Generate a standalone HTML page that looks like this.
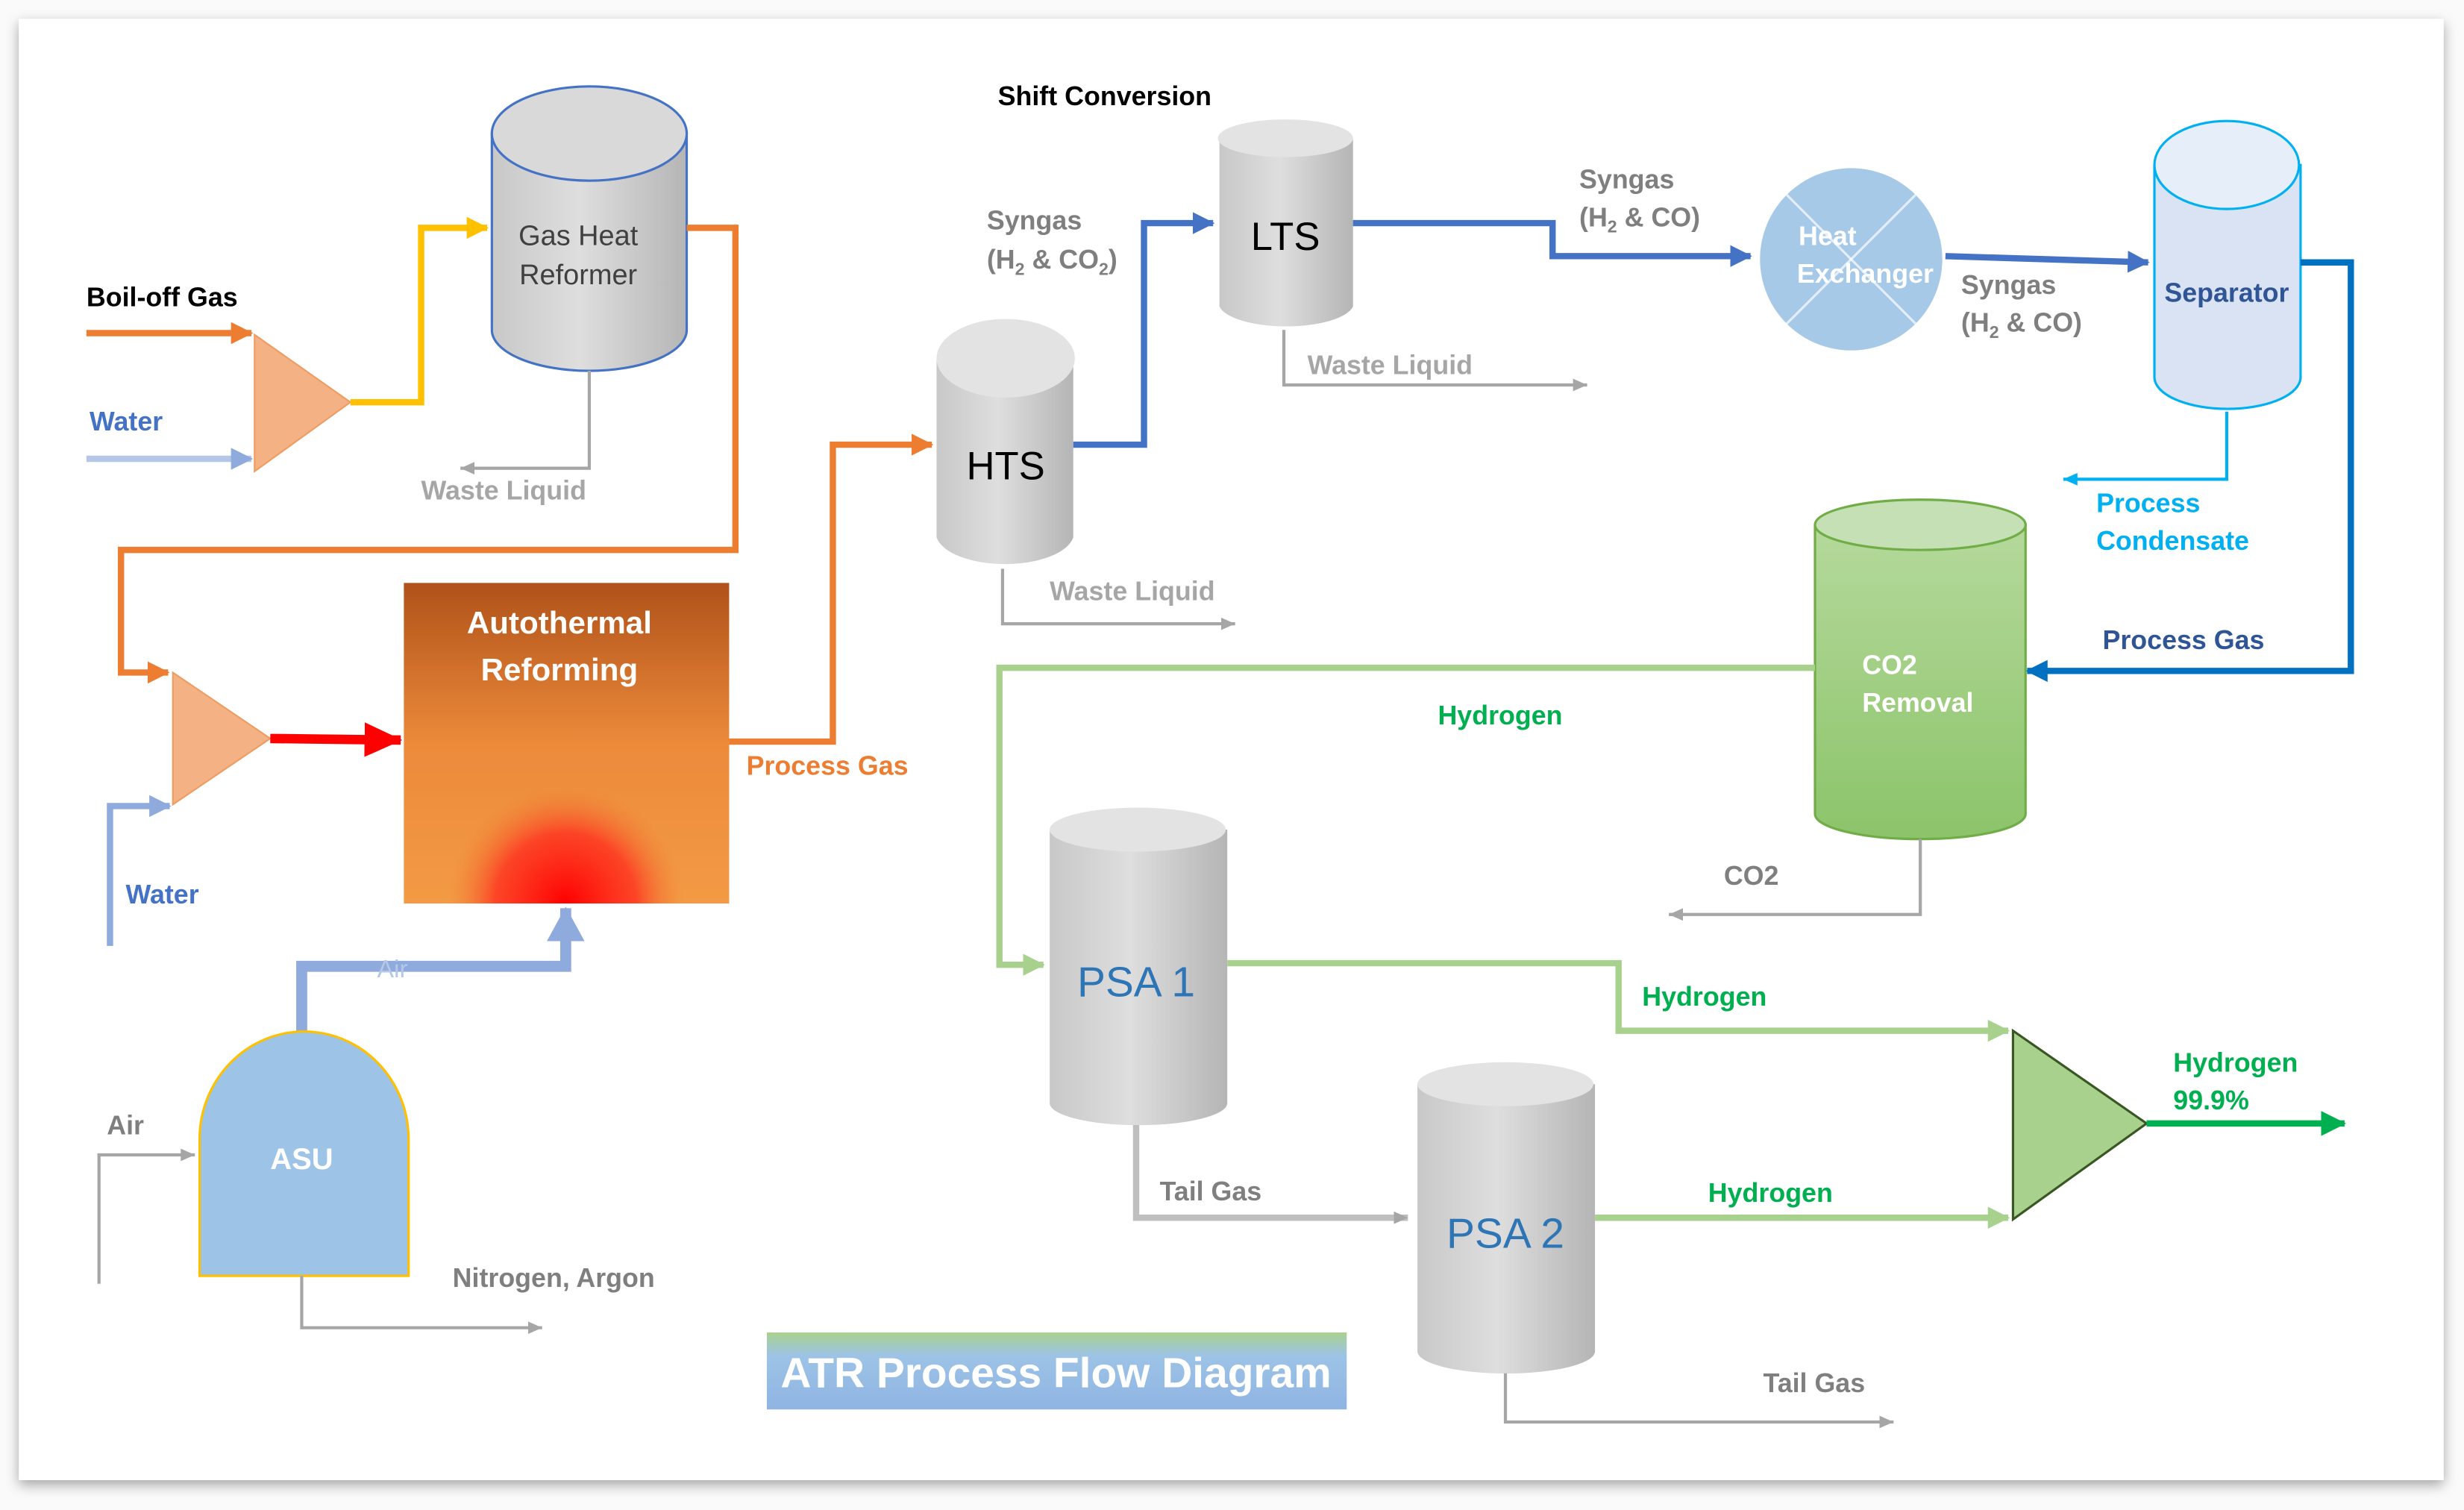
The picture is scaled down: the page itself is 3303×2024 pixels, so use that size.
<!DOCTYPE html>
<html><head><meta charset="utf-8">
<style>
html,body{margin:0;padding:0;background:#fff;}
svg{display:block;}
text{font-family:"Liberation Sans","DejaVu Sans",sans-serif;}
</style></head>
<body>
<svg width="3303" height="2024" viewBox="0 0 1568 961" preserveAspectRatio="none" xmlns="http://www.w3.org/2000/svg">
<defs>
<linearGradient id="gray" x1="0" y1="0" x2="1" y2="0">
<stop offset="0" stop-color="#c8c8c8"/><stop offset="0.45" stop-color="#dedede"/><stop offset="1" stop-color="#b5b5b5"/></linearGradient>
<linearGradient id="grayv" x1="0" y1="0" x2="0" y2="1">
<stop offset="0" stop-color="#e3e3e3"/><stop offset="1" stop-color="#bdbdbd"/></linearGradient>
<linearGradient id="green" x1="0" y1="0" x2="0" y2="1">
<stop offset="0" stop-color="#b5d99c"/><stop offset="1" stop-color="#8cc46a"/></linearGradient>
<linearGradient id="atr" x1="0" y1="0" x2="0" y2="1">
<stop offset="0" stop-color="#b0521a"/><stop offset="0.5" stop-color="#ec8a3a"/><stop offset="1" stop-color="#f39a45"/></linearGradient>
<radialGradient id="glow" cx="360" cy="575" r="75" gradientUnits="userSpaceOnUse">
<stop offset="0" stop-color="#ff0000"/><stop offset="0.6" stop-color="#ff3020" stop-opacity="0.8"/><stop offset="1" stop-color="#f08030" stop-opacity="0"/></radialGradient>
<linearGradient id="title" x1="0" y1="0" x2="0" y2="1">
<stop offset="0" stop-color="#a9d18e"/><stop offset="0.3" stop-color="#9dc3e6"/><stop offset="1" stop-color="#8fb4e3"/></linearGradient>
<filter id="sh" x="-5%" y="-5%" width="110%" height="110%"><feDropShadow dx="0" dy="3" stdDeviation="4" flood-color="#000" flood-opacity="0.35"/></filter>
<marker id="ao" markerWidth="8" markerHeight="8" refX="7" refY="4" orient="auto" markerUnits="userSpaceOnUse"><path d="M0,0 L8,4 L0,8z" fill="#ed7d31"/></marker>
<marker id="ab" markerWidth="14" markerHeight="14" refX="13" refY="7" orient="auto" markerUnits="userSpaceOnUse"><path d="M0,0 L14,7 L0,14z" fill="#4472c4"/></marker>
<marker id="ab2" markerWidth="14" markerHeight="14" refX="13" refY="7" orient="auto" markerUnits="userSpaceOnUse"><path d="M0,0 L14,7 L0,14z" fill="#0070c0"/></marker>
<marker id="alb" markerWidth="14" markerHeight="14" refX="13" refY="7" orient="auto" markerUnits="userSpaceOnUse"><path d="M0,0 L14,7 L0,14z" fill="#8faadc"/></marker>
<marker id="ay" markerWidth="14" markerHeight="14" refX="13" refY="7" orient="auto" markerUnits="userSpaceOnUse"><path d="M0,0 L14,7 L0,14z" fill="#ffc000"/></marker>
<marker id="aor" markerWidth="14" markerHeight="14" refX="13" refY="7" orient="auto" markerUnits="userSpaceOnUse"><path d="M0,0 L14,7 L0,14z" fill="#ed7d31"/></marker>
<marker id="ar" markerWidth="24" markerHeight="22" refX="23" refY="11" orient="auto" markerUnits="userSpaceOnUse"><path d="M0,0 L24,11 L0,22z" fill="#ff0000"/></marker>
<marker id="ag" markerWidth="10" markerHeight="10" refX="9" refY="5" orient="auto" markerUnits="userSpaceOnUse"><path d="M0,1 L9,5 L0,9z" fill="#a6a6a6"/></marker>
<marker id="ac" markerWidth="10" markerHeight="10" refX="9" refY="5" orient="auto" markerUnits="userSpaceOnUse"><path d="M0,1 L9,5 L0,9z" fill="#00b0f0"/></marker>
<marker id="agr" markerWidth="14" markerHeight="14" refX="13" refY="7" orient="auto" markerUnits="userSpaceOnUse"><path d="M0,0 L14,7 L0,14z" fill="#a9d18e"/></marker>
<marker id="adg" markerWidth="16" markerHeight="16" refX="15" refY="8" orient="auto" markerUnits="userSpaceOnUse"><path d="M0,0 L16,8 L0,16z" fill="#00b050"/></marker>
<marker id="aair" markerWidth="22" markerHeight="24" refX="21" refY="12" orient="auto" markerUnits="userSpaceOnUse"><path d="M0,0 L22,12 L0,24z" fill="#8faadc"/></marker>
</defs>
<rect x="0" y="0" width="1568" height="961" fill="#fafafa"/>
<rect x="12" y="12" width="1543" height="930" fill="#fff" filter="url(#sh)"/>

<!-- Gas Heat Reformer -->
<path d="M313,85 L313,210 A62,26 0 0 0 437,210 L437,85 Z" fill="url(#gray)" stroke="#4472c4" stroke-width="1.5"/>
<ellipse cx="375" cy="85" rx="62" ry="30" fill="#d9d9d9" stroke="#4472c4" stroke-width="1.5"/>
<text x="368" y="156" font-size="18" fill="#404040" text-anchor="middle">Gas Heat</text>
<text x="368" y="181" font-size="18" fill="#404040" text-anchor="middle">Reformer</text>
<polyline points="375,236 375,298 293,298" fill="none" stroke="#a6a6a6" stroke-width="2" marker-end="url(#ag)"/>
<text x="268" y="318" font-size="17" fill="#a6a6a6" font-weight="bold">Waste Liquid</text>

<text x="55" y="195" font-size="17" font-weight="bold" fill="#000">Boil-off Gas</text>
<line x1="55" y1="212" x2="160" y2="212" stroke="#ed7d31" stroke-width="4" marker-end="url(#aor)"/>
<text x="57" y="274" font-size="17" font-weight="bold" fill="#4472c4">Water</text>
<line x1="55" y1="292" x2="160" y2="292" stroke="#b4c7e7" stroke-width="4" marker-end="url(#alb)"/>
<polygon points="162,213 162,300 223,256" fill="#f4b183" stroke="#ed9c62" stroke-width="1"/>
<polyline points="223,256 268,256 268,145 310,145" fill="none" stroke="#ffc000" stroke-width="4" marker-end="url(#ay)"/>
<polyline points="437,145 468,145 468,350 77,350 77,428 107,428" fill="none" stroke="#ed7d31" stroke-width="4" marker-end="url(#aor)"/>

<polygon points="110,428 110,512 172,470" fill="#f4b183" stroke="#ed9c62" stroke-width="1"/>
<line x1="172" y1="470" x2="255" y2="471" stroke="#ff0000" stroke-width="6" marker-end="url(#ar)"/>
<polyline points="70,602 70,513 108,513" fill="none" stroke="#8faadc" stroke-width="4" marker-end="url(#alb)"/>
<text x="80" y="575" font-size="17" font-weight="bold" fill="#4472c4">Water</text>

<!-- ATR -->
<rect x="257" y="371" width="207" height="204" fill="url(#atr)"/>
<rect x="257" y="371" width="207" height="204" fill="url(#glow)"/>
<text x="356" y="403" font-size="20" font-weight="bold" fill="#fff" text-anchor="middle">Autothermal</text>
<text x="356" y="433" font-size="20" font-weight="bold" fill="#fff" text-anchor="middle">Reforming</text>
<polyline points="464,472 530,472 530,283 593,283" fill="none" stroke="#ed7d31" stroke-width="4" marker-end="url(#aor)"/>
<text x="475" y="493" font-size="17" font-weight="bold" fill="#ed7d31">Process Gas</text>

<!-- Air / ASU -->
<polyline points="192,660 192,615 360,615 360,578" fill="none" stroke="#8faadc" stroke-width="7" marker-end="url(#aair)"/>
<text x="240" y="622" font-size="16" fill="#b4c7e7">Air</text>
<path d="M127,812 L127,725 A66,68 0 0 1 260,725 L260,812 Z" fill="#9dc3e6" stroke="#ffc000" stroke-width="1.5"/>
<text x="192" y="744" font-size="19" font-weight="bold" fill="#fff" text-anchor="middle">ASU</text>
<polyline points="63,817 63,735 124,735" fill="none" stroke="#a6a6a6" stroke-width="2" marker-end="url(#ag)"/>
<text x="68" y="722" font-size="17" fill="#7f7f7f" font-weight="bold">Air</text>
<polyline points="192,812 192,845 345,845" fill="none" stroke="#a6a6a6" stroke-width="2" marker-end="url(#ag)"/>
<text x="288" y="819" font-size="17" fill="#7f7f7f" font-weight="bold">Nitrogen, Argon</text>

<!-- HTS -->
<path d="M596,228 L596,342 A44,20 0 0 0 683,342 L683,228 Z" fill="url(#gray)"/>
<ellipse cx="640" cy="228" rx="44" ry="25" fill="#e3e3e3"/>
<text x="640" y="305" font-size="25" fill="#000" text-anchor="middle">HTS</text>
<polyline points="638,362 638,397 786,397" fill="none" stroke="#a6a6a6" stroke-width="2" marker-end="url(#ag)"/>
<text x="668" y="382" font-size="17" fill="#a6a6a6" font-weight="bold">Waste Liquid</text>
<polyline points="683,283 728,283 728,142 772,142" fill="none" stroke="#4472c4" stroke-width="4" marker-end="url(#ab)"/>
<text x="628" y="146" font-size="17" fill="#7f7f7f" font-weight="bold">Syngas</text>
<text x="628" y="171" font-size="17" fill="#7f7f7f" font-weight="bold">(H<tspan font-size="11" dy="4">2</tspan><tspan dy="-4"> &amp; CO</tspan><tspan font-size="11" dy="4">2</tspan><tspan dy="-4">)</tspan></text>

<!-- LTS -->
<text x="635" y="67" font-size="17" font-weight="bold" fill="#000">Shift Conversion</text>
<path d="M776,88 L776,195 A43,15 0 0 0 861,195 L861,88 Z" fill="url(#gray)"/>
<ellipse cx="818" cy="88" rx="43" ry="12" fill="#e3e3e3"/>
<text x="818" y="159" font-size="25" fill="#000" text-anchor="middle">LTS</text>
<polyline points="817,210 817,245 1010,245" fill="none" stroke="#a6a6a6" stroke-width="2" marker-end="url(#ag)"/>
<text x="832" y="238" font-size="17" fill="#a6a6a6" font-weight="bold">Waste Liquid</text>
<polyline points="861,142 988,142 988,163 1114,163" fill="none" stroke="#4472c4" stroke-width="4" marker-end="url(#ab)"/>
<text x="1005" y="120" font-size="17" fill="#7f7f7f" font-weight="bold">Syngas</text>
<text x="1005" y="144" font-size="17" fill="#7f7f7f" font-weight="bold">(H<tspan font-size="11" dy="4">2</tspan><tspan dy="-4"> &amp; CO)</tspan></text>

<!-- Heat exchanger -->
<circle cx="1178" cy="165" r="58" fill="#9dc3e6" opacity="0.9"/>
<line x1="1137" y1="124" x2="1219" y2="206" stroke="#fff" stroke-width="1.5" opacity="0.7"/>
<line x1="1219" y1="124" x2="1137" y2="206" stroke="#fff" stroke-width="1.5" opacity="0.7"/>
<text x="1163" y="156" font-size="17" font-weight="bold" fill="#fff" text-anchor="middle">Heat</text>
<text x="1187" y="180" font-size="17" font-weight="bold" fill="#fff" text-anchor="middle">Exchanger</text>
<line x1="1238" y1="163" x2="1367" y2="167" stroke="#4472c4" stroke-width="4" marker-end="url(#ab)"/>
<text x="1248" y="187" font-size="17" fill="#7f7f7f" font-weight="bold">Syngas</text>
<text x="1248" y="211" font-size="17" fill="#7f7f7f" font-weight="bold">(H<tspan font-size="11" dy="4">2</tspan><tspan dy="-4"> &amp; CO)</tspan></text>

<!-- Separator -->
<path d="M1371,105 L1371,240 A46,20 0 0 0 1464,240 L1464,105 Z" fill="#dae3f3" stroke="#00b0f0" stroke-width="1.5"/>
<ellipse cx="1417" cy="105" rx="46" ry="28" fill="#e6eefa" stroke="#00b0f0" stroke-width="1.5"/>
<text x="1417" y="192" font-size="17" font-weight="bold" fill="#2f5597" text-anchor="middle">Separator</text>
<polyline points="1417,262 1417,305 1313,305" fill="none" stroke="#00b0f0" stroke-width="2" marker-end="url(#ac)"/>
<text x="1334" y="326" font-size="17" font-weight="bold" fill="#00b0f0">Process</text>
<text x="1334" y="350" font-size="17" font-weight="bold" fill="#00b0f0">Condensate</text>
<polyline points="1464,167 1496,167 1496,427 1290,427" fill="none" stroke="#0070c0" stroke-width="4" marker-end="url(#ab2)"/>
<text x="1338" y="413" font-size="17" font-weight="bold" fill="#2f5597">Process Gas</text>

<!-- CO2 removal -->
<path d="M1155,334 L1155,518 A67,16 0 0 0 1289,518 L1289,334 Z" fill="url(#green)" stroke="#70ad47" stroke-width="1.5"/>
<ellipse cx="1222" cy="334" rx="67" ry="16" fill="#c5e0b4" stroke="#70ad47" stroke-width="1.5"/>
<text x="1185" y="429" font-size="17" font-weight="bold" fill="#fff">CO2</text>
<text x="1185" y="453" font-size="17" font-weight="bold" fill="#fff">Removal</text>
<polyline points="1155,425 636,425 636,614 664,614" fill="none" stroke="#a9d18e" stroke-width="4" marker-end="url(#agr)"/>
<text x="915" y="461" font-size="17" font-weight="bold" fill="#00b050">Hydrogen</text>
<polyline points="1222,534 1222,582 1062,582" fill="none" stroke="#a6a6a6" stroke-width="2" marker-end="url(#ag)"/>
<text x="1097" y="563" font-size="17" fill="#7f7f7f" font-weight="bold">CO2</text>

<!-- PSA 1 -->
<path d="M668,528 L668,702 A56,14 0 0 0 781,702 L781,528 Z" fill="url(#gray)"/>
<ellipse cx="724" cy="528" rx="56" ry="14" fill="#e3e3e3"/>
<text x="723" y="634" font-size="27" fill="#2e75b6" text-anchor="middle">PSA 1</text>
<polyline points="781,613 1030,613 1030,656 1278,656" fill="none" stroke="#a9d18e" stroke-width="4" marker-end="url(#agr)"/>
<text x="1045" y="640" font-size="17" font-weight="bold" fill="#00b050">Hydrogen</text>
<polyline points="723,716 723,775 896,775" fill="none" stroke="#bfbfbf" stroke-width="4" marker-end="url(#ag)"/>
<text x="738" y="764" font-size="17" fill="#7f7f7f" font-weight="bold">Tail Gas</text>

<!-- PSA 2 -->
<path d="M902,690 L902,860 A56,14 0 0 0 1015,860 L1015,690 Z" fill="url(#gray)"/>
<ellipse cx="958" cy="690" rx="56" ry="14" fill="#e3e3e3"/>
<text x="958" y="794" font-size="27" fill="#2e75b6" text-anchor="middle">PSA 2</text>
<line x1="1015" y1="775" x2="1278" y2="775" stroke="#a9d18e" stroke-width="4" marker-end="url(#agr)"/>
<text x="1087" y="765" font-size="17" font-weight="bold" fill="#00b050">Hydrogen</text>
<polyline points="958,874 958,905 1205,905" fill="none" stroke="#a6a6a6" stroke-width="2" marker-end="url(#ag)"/>
<text x="1122" y="886" font-size="17" fill="#7f7f7f" font-weight="bold">Tail Gas</text>

<!-- output -->
<polygon points="1281,656 1281,776 1366,715" fill="#a9d18e" stroke="#385723" stroke-width="1.5"/>
<line x1="1366" y1="715" x2="1492" y2="715" stroke="#00b050" stroke-width="4" marker-end="url(#adg)"/>
<text x="1383" y="682" font-size="17" font-weight="bold" fill="#00b050">Hydrogen</text>
<text x="1383" y="706" font-size="17" font-weight="bold" fill="#00b050">99.9%</text>

<!-- title -->
<rect x="488" y="848" width="369" height="49" fill="url(#title)"/>
<text x="672" y="883" font-size="27" font-weight="bold" fill="#fff" text-anchor="middle">ATR Process Flow Diagram</text>
</svg>
</body></html>
